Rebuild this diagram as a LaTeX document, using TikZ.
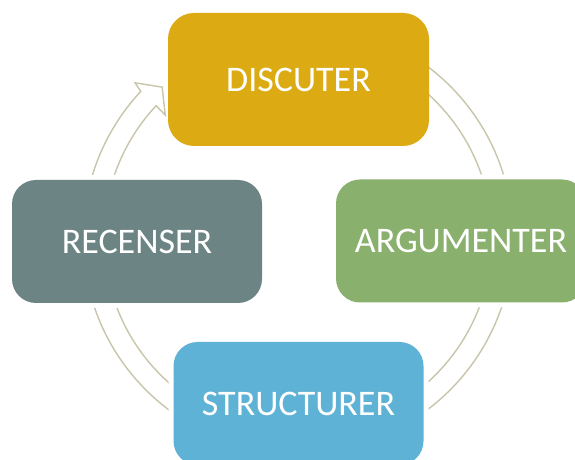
\documentclass[tikz,border=0pt]{standalone}
\usepackage{fontspec}
\setmainfont{Carlito}
\usepackage{xcolor}
\usetikzlibrary{positioning}

\definecolor{gold}{RGB}{220,170,18}
\definecolor{slate}{RGB}{108,133,132}
\definecolor{leaf}{RGB}{138,176,110}
\definecolor{sky}{RGB}{94,178,213}
\definecolor{ring}{RGB}{200,197,170}

\begin{document}
\begin{tikzpicture}[x=1pt, y=1pt,
    font=\fontsize{36}{40}\selectfont,
    stage/.style={rounded corners=24pt, minimum width=250pt, minimum height=123pt,
        text=white, inner sep=0pt},
    halo/.style={preaction={draw=white, line width=10pt}},
    band/.style={draw=ring, fill=white, line width=1.4pt, line join=miter}]
        \useasboundingbox (0,0) rectangle (575,460);
        \coordinate (hub) at (298,222);

        % circular arrow behind the boxes
        \begin{scope}[shift={(hub)}]
            \draw[band] (95:215pt) arc[start angle=95, end angle=-223, radius=215pt]
                -- (136.4:225pt) -- (132:203pt) -- (137.2:181pt) -- (137:194pt)
                arc[start angle=-223, end angle=95, radius=194pt] -- cycle;
        \end{scope}

        % the four stages
        \node[stage, fill=gold, minimum width=261pt, minimum height=133pt,
            rounded corners=26pt] (discuter) at (298.5,380.5) {DISCUTER};
        \node[stage, halo, fill=leaf]  (argumenter) at (461,219)   {ARGUMENTER};
        \node[stage, halo, fill=sky]   (structurer) at (298.5,56.5) {STRUCTURER};
        \node[stage, halo, fill=slate] (recenser)   at (137,218.5) {RECENSER};
    \end{tikzpicture}
\end{document}
